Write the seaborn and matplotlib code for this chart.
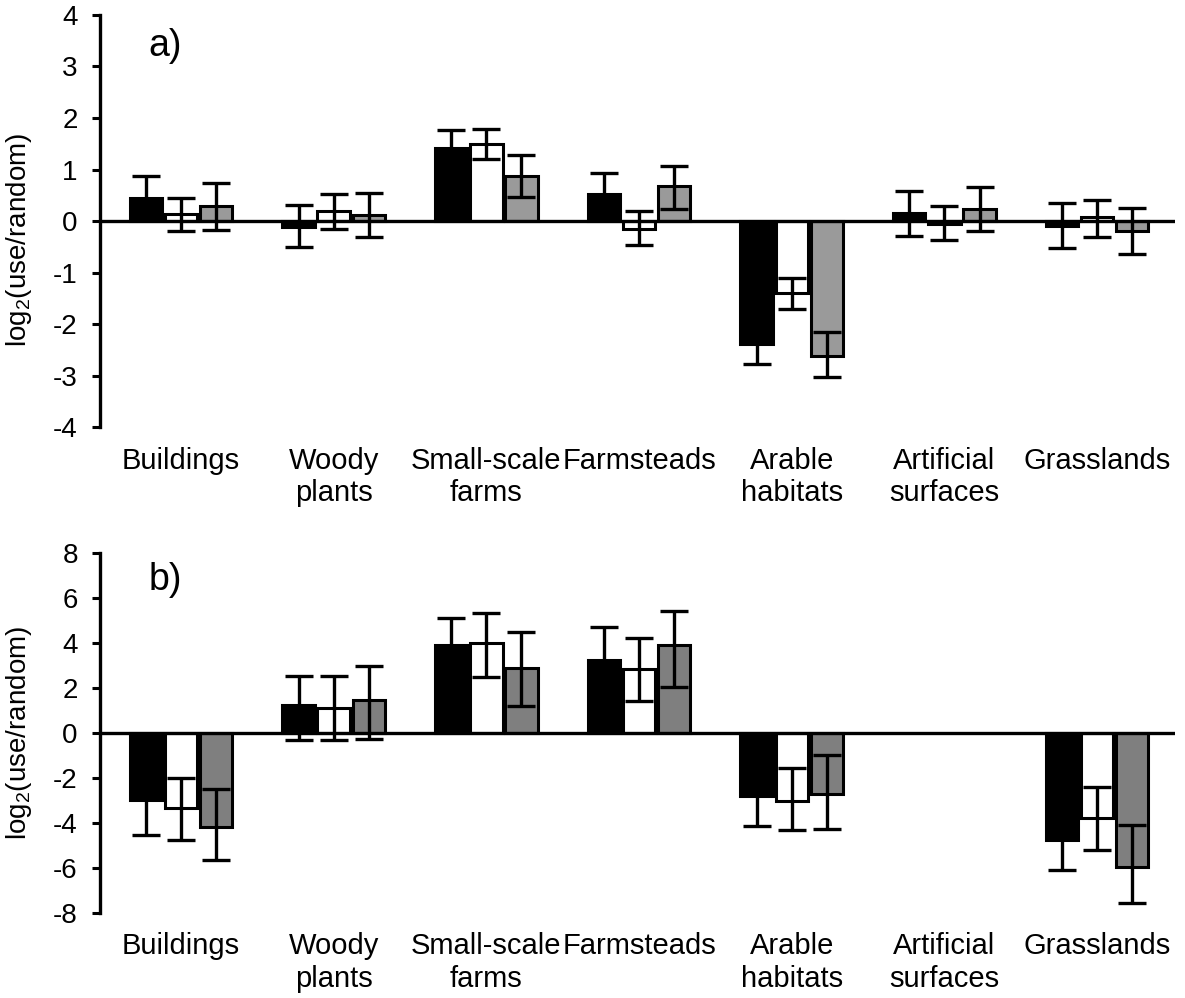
import numpy as np
import pandas as pd
import matplotlib
matplotlib.use('Agg')
import matplotlib.pyplot as plt
import seaborn as sns

categories = ['Buildings', 'Woody\nplants', 'Small-scale\nfarms', 'Farmsteads',
              'Arable\nhabitats', 'Artificial\nsurfaces', 'Grasslands']
series = ['black', 'white', 'grey']

# panel a) - means and lower/upper error limits
a_black = [0.45, -0.11, 1.41, 0.53, -2.38, 0.15, -0.10]
a_black_lo = [0.03, -0.51, 1.06, 0.13, -2.77, -0.29, -0.52]
a_black_hi = [0.87, 0.32, 1.76, 0.93, -1.99, 0.58, 0.35]
a_white = [0.14, 0.20, 1.49, -0.15, -1.39, -0.06, 0.08]
a_white_lo = [-0.19, -0.16, 1.20, -0.46, -1.70, -0.37, -0.31]
a_white_hi = [0.44, 0.52, 1.78, 0.19, -1.10, 0.30, 0.40]
a_grey = [0.30, 0.11, 0.87, 0.69, -2.61, 0.24, -0.19]
a_grey_lo = [-0.18, -0.30, 0.47, 0.24, -3.03, -0.20, -0.63]
a_grey_hi = [0.73, 0.55, 1.28, 1.07, -2.16, 0.67, 0.26]

# panel b) - no data for artificial surfaces
nan = np.nan
b_black = [-2.98, 1.26, 3.90, 3.24, -2.81, nan, -4.76]
b_black_lo = [-4.53, -0.33, 2.68, 1.78, -4.14, nan, -6.07]
b_black_hi = [-1.43, 2.52, 5.12, 4.70, -1.48, nan, -3.45]
b_white = [-3.35, 1.11, 3.98, 2.85, -3.02, nan, -3.78]
b_white_lo = [-4.74, -0.33, 2.50, 1.44, -4.30, nan, -5.18]
b_white_hi = [-2.01, 2.52, 5.34, 4.23, -1.56, nan, -2.39]
b_grey = [-4.16, 1.48, 2.87, 3.90, -2.69, nan, -5.95]
b_grey_lo = [-5.64, -0.27, 1.22, 2.04, -4.25, nan, -7.55]
b_grey_hi = [-2.49, 2.99, 4.48, 5.41, -0.99, nan, -4.11]

sns.set_style('white')
plt.rcParams['font.family'] = ['Liberation Sans', 'DejaVu Sans']
plt.rcParams['mathtext.fontset'] = 'custom'
plt.rcParams['mathtext.rm'] = 'Liberation Sans'
plt.rcParams['axes.unicode_minus'] = False
plt.rcParams['text.color'] = 'black'
plt.rcParams['axes.labelcolor'] = 'black'
plt.rcParams['xtick.color'] = 'black'
plt.rcParams['ytick.color'] = 'black'


def make_df(means, los, his):
    rows = []
    for s, m, lo, hi in zip(series, means, los, his):
        for c, v, l, h in zip(categories, m, lo, hi):
            if not np.isnan(v):
                rows.append({'cat': c, 'grp': s, 'val': v, 'lo': l, 'hi': h})
    return pd.DataFrame(rows)


df_a = make_df([a_black, a_white, a_grey], [a_black_lo, a_white_lo, a_grey_lo],
               [a_black_hi, a_white_hi, a_grey_hi])
df_b = make_df([b_black, b_white, b_grey], [b_black_lo, b_white_lo, b_grey_lo],
               [b_black_hi, b_white_hi, b_grey_hi])

fig = plt.figure(figsize=(11.85, 9.98), dpi=100)
ax1 = fig.add_axes([0.0844, 0.572, 0.9072, 0.413])
ax2 = fig.add_axes([0.0844, 0.0852, 0.9072, 0.3607])


def draw(ax, df, grey, lim, step, tag, ylab_y):
    sns.barplot(data=df, x='cat', y='val', hue='grp', order=categories, hue_order=series,
                palette={'black': 'black', 'white': 'white', 'grey': grey},
                width=0.69, gap=0.08, errorbar=None, edgecolor='black', linewidth=2.2,
                legend=False, ax=ax, zorder=2)
    bar_groups = list(ax.containers)
    # error bars at bar centres
    for k, cont in enumerate(bar_groups):
        sub = df[df['grp'] == series[k]].set_index('cat')
        for bar in cont:
            xc = bar.get_x() + bar.get_width() / 2
            cat = categories[int(round(xc))]
            v, l, h = sub.loc[cat, ['val', 'lo', 'hi']]
            ax.errorbar(xc, v, yerr=[[v - l], [h - v]], fmt='none', ecolor='black',
                        elinewidth=2.4, capsize=10, capthick=2.4, zorder=3)
    ax.axhline(0, color='black', lw=2.4, zorder=4)
    ax.set_xlim(-0.53, 6.51)
    ax.set_ylim(-lim, lim)
    ax.set_yticks(np.arange(-lim, lim + 1, step))
    for sp in ['top', 'right', 'bottom']:
        ax.spines[sp].set_visible(False)
    ax.spines['left'].set_linewidth(2.4)
    ax.spines['left'].set_color('black')
    ax.tick_params(axis='y', left=True, length=6, width=2.2, pad=10, labelsize=20)
    ax.tick_params(axis='x', bottom=False, length=0, pad=14, labelsize=21)
    ax.set_xlabel('')
    ax.set_ylabel(r'log$_2$(use/random)', fontsize=20)
    ax.yaxis.set_label_coords(-0.061, ylab_y)
    ax.text(0.045, 0.925, tag, transform=ax.transAxes, fontsize=27, va='center', ha='left')


draw(ax1, df_a, '#9a9a9a', 4, 1, 'a)', 0.455)
draw(ax2, df_b, '#7f7f7f', 8, 2, 'b)', 0.5)

plt.savefig('out.png', dpi=100)
